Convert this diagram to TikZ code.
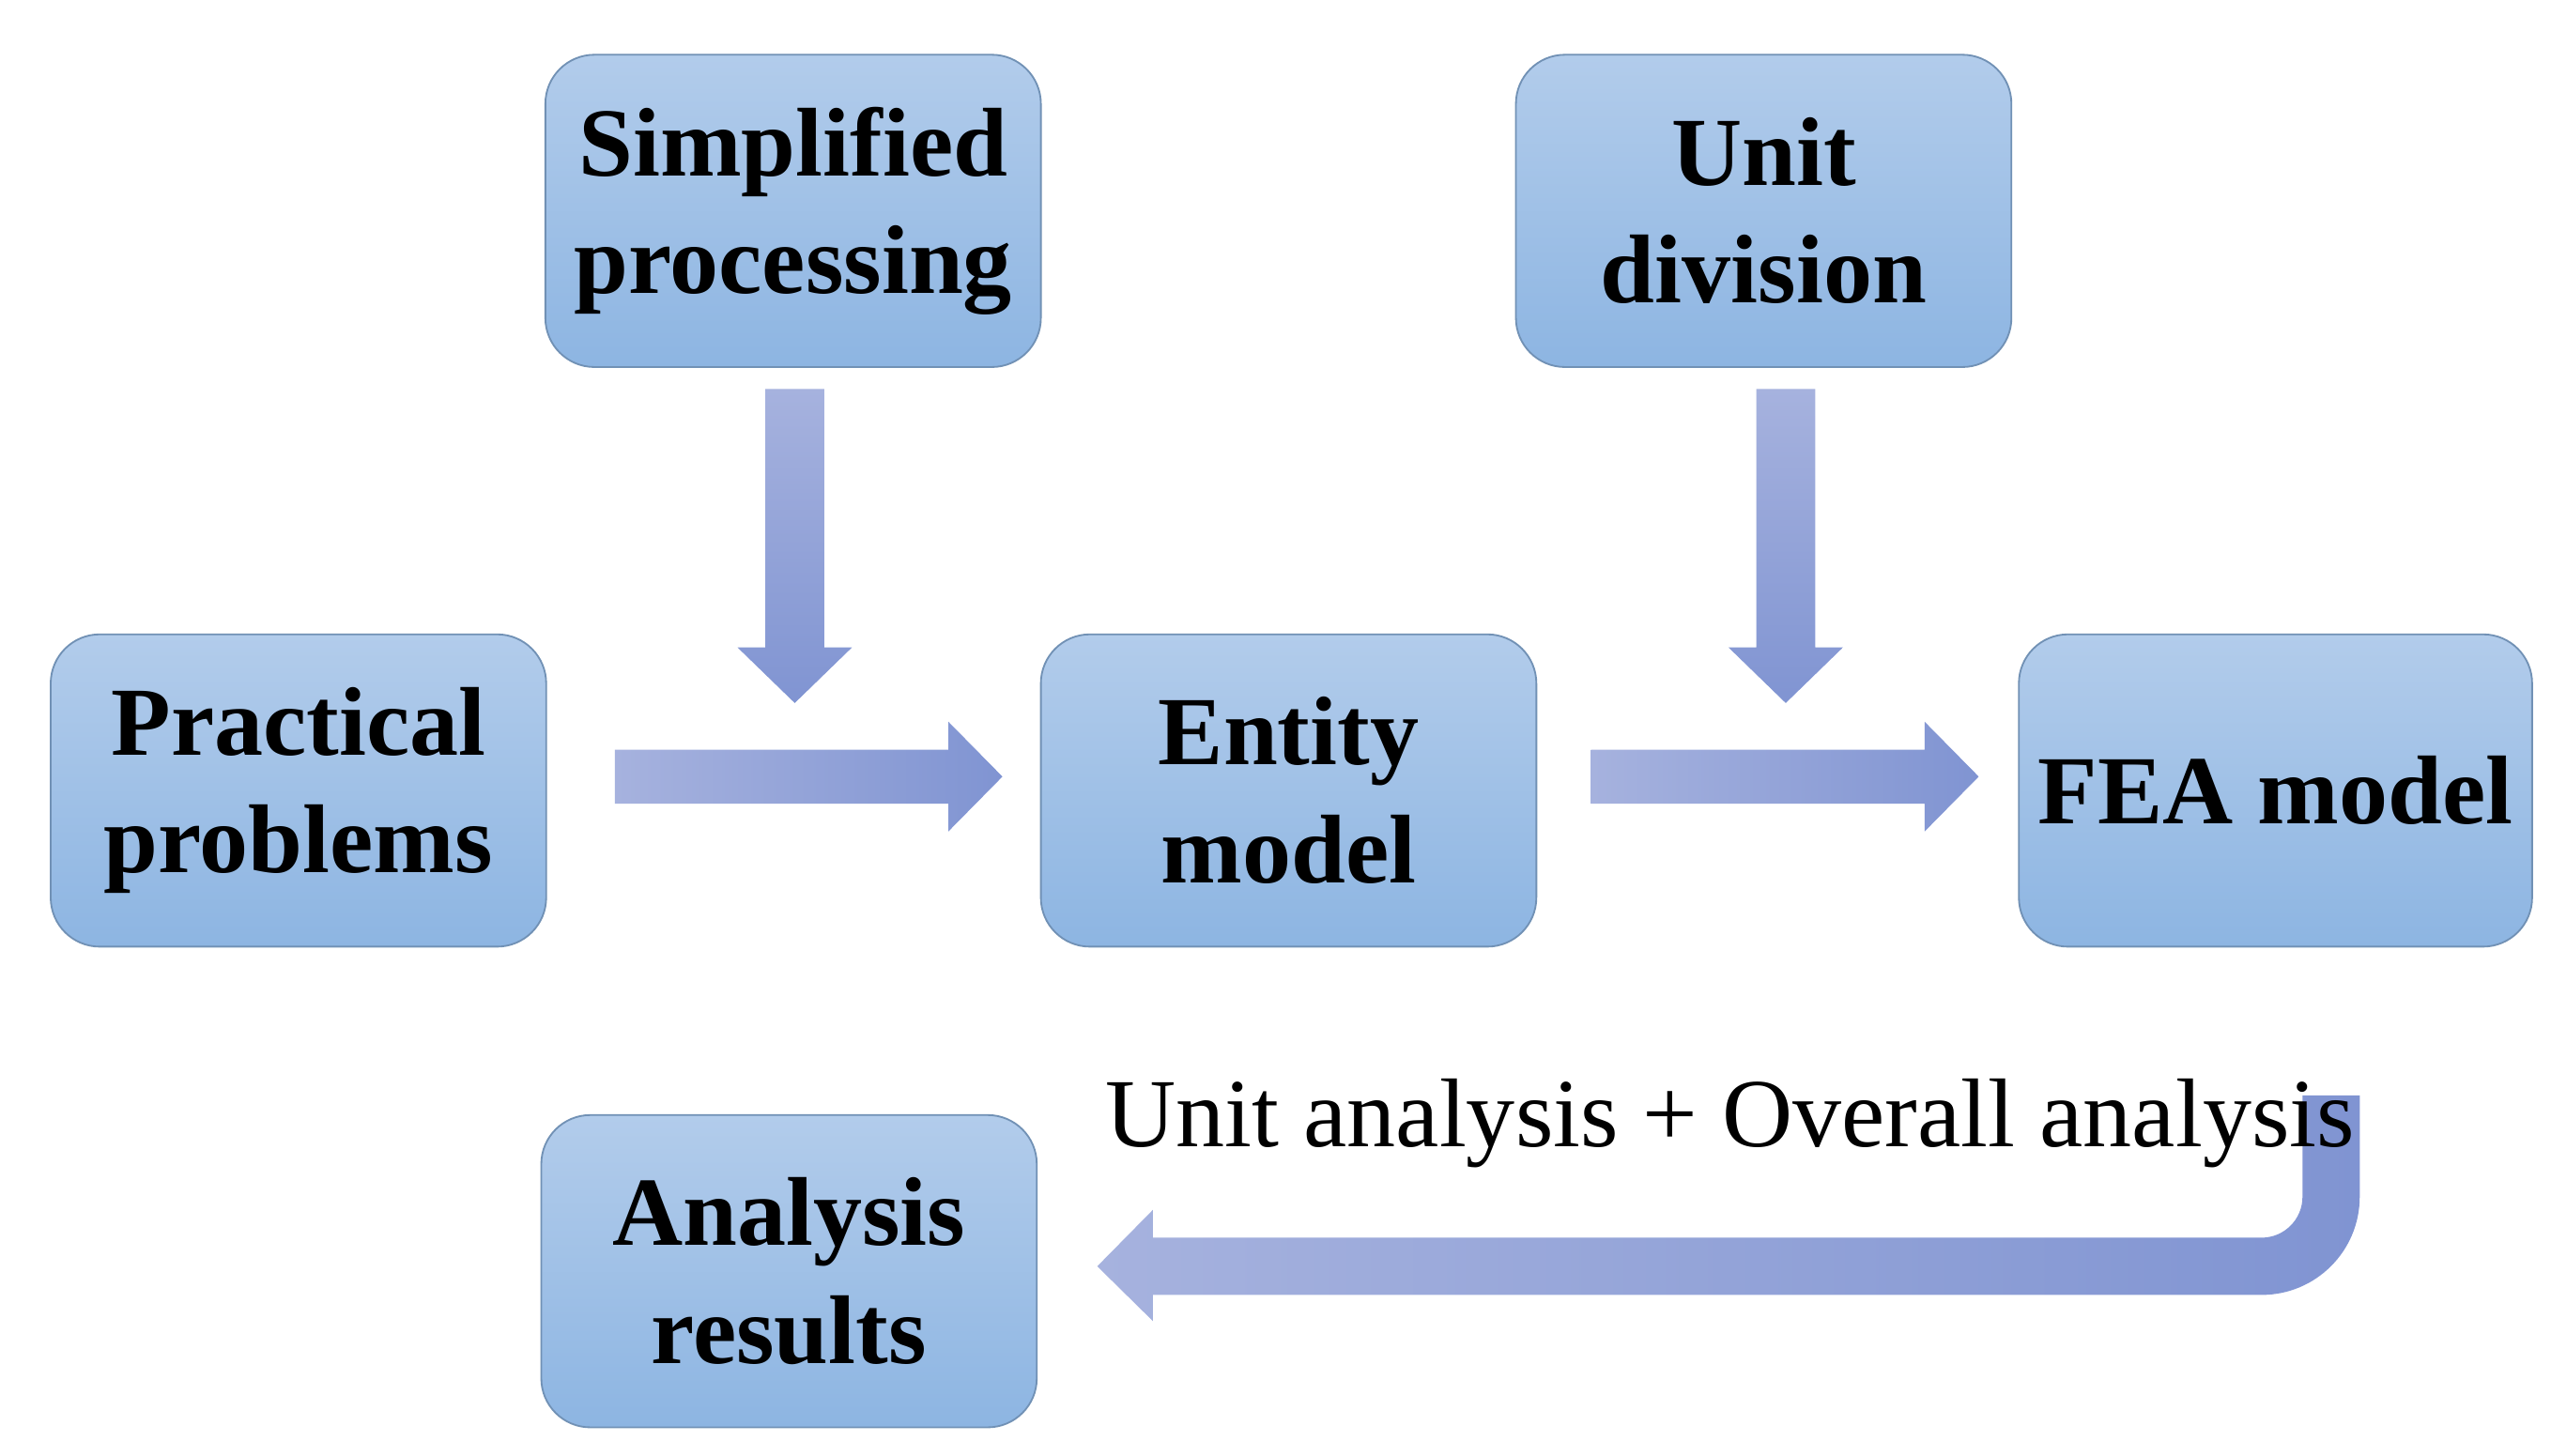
\documentclass[tikz,border=0pt]{standalone}
\usepackage{fontspec}
\setmainfont{Liberation Serif}
\definecolor{box-top}{RGB}{178,204,235}
\definecolor{box-bot}{RGB}{141,181,226}
\definecolor{arr-light}{RGB}{166,178,222}
\definecolor{arr-dark}{RGB}{128,148,210}
\usetikzlibrary{positioning}
\tikzset{
  stage/.style={rectangle,rounded corners=0.3cm,minimum width=3.03cm,minimum height=1.91cm,
    top color=box-top,bottom color=box-bot,draw=box-bot!80!black,line width=0.3pt,
    align=center,font=\fontsize{17}{20.5}\selectfont\bfseries},
  fatdown/.style={top color=arr-light,bottom color=arr-dark,draw=none},
  fatright/.style={left color=arr-light,right color=arr-dark,draw=none}
}
\begin{document}
\begin{tikzpicture}
    \useasboundingbox (0,0) rectangle (15.6,8.9);
    \fill[white] (0,0) rectangle (15.6,8.9);
    % boxes
    \node[stage] (simp) at (4.85,7.61) {Simplified\\processing};
    \node[stage] (unit) at (10.785,7.61) {Unit\\division};
    \node[stage] (prac) at (1.825,4.065) {Practical\\problems};
    \node[stage] (enti) at (7.88,4.065) {Entity\\model};
    \node[stage] (fea) at (13.915,4.065) {FEA model};
    \node[stage] (resu) at (4.825,1.125) {Analysis\\results};
    % block arrows
    \shade[fatdown] (4.68,6.52) -- (5.04,6.52) -- (5.04,4.94) -- (5.21,4.94) -- (4.86,4.60)
        -- (4.51,4.94) -- (4.68,4.94) -- cycle;
    \shade[fatdown] (10.74,6.52) -- (11.10,6.52) -- (11.10,4.94) -- (11.27,4.94) -- (10.92,4.60)
        -- (10.57,4.94) -- (10.74,4.94) -- cycle;
    \shade[fatright] (3.76,4.315) -- (5.80,4.315) -- (5.80,4.485) -- (6.13,4.15) -- (5.80,3.815)
        -- (5.80,3.985) -- (3.76,3.985) -- cycle;
    \shade[fatright] (9.73,4.315) -- (11.77,4.315) -- (11.77,4.485) -- (12.10,4.15) -- (11.77,3.815)
        -- (11.77,3.985) -- (9.73,3.985) -- cycle;
    \shade[fatright] (14.43,2.20) -- (14.43,1.58) arc (0:-90:0.6) -- (7.05,0.98) -- (7.05,0.82)
        -- (6.71,1.155) -- (7.05,1.50) -- (7.05,1.33) -- (13.83,1.33) arc (-90:0:0.25)
        -- (14.08,2.20) -- cycle;
    %
    \node[font=\fontsize{17}{20}\selectfont] (lab) at (10.58,2.03) {Unit analysis + Overall analysis};
\end{tikzpicture}
\end{document}
